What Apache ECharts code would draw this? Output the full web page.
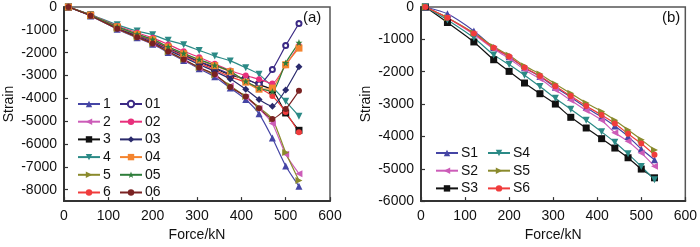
<!DOCTYPE html>
<html>
<head>
<meta charset="utf-8">
<script src="https://cdn.jsdelivr.net/npm/echarts@6/dist/echarts.min.js"></script>
<style>
  html, body { margin: 0; padding: 0; background: #fff; }
  #main { width: 700px; height: 247px; }
</style>
</head>
<body>
<div id="main"></div>
<script>
// force values (kN), shared by both panels
var force = [10, 60, 120, 165, 200, 235, 270, 305, 340, 375, 410, 440, 470, 500, 530];

// panel (a)
var a1  = [0, -390, -970, -1350, -1630, -1990, -2340, -2700, -3050, -3550, -4050, -4680, -5740, -6960, -7850];
var a2  = [0, -380, -950, -1330, -1610, -1960, -2310, -2660, -2990, -3460, -3950, -4450, -5100, -6450, -7300];
var a3  = [0, -360, -890, -1230, -1480, -1800, -2100, -2400, -2680, -2980, -3160, -3400, -3630, -4640, -5400];
var a4  = [0, -330, -780, -1050, -1220, -1460, -1650, -1900, -2150, -2360, -2660, -2950, -3500, -4130, -4780];
var a5  = [0, -380, -950, -1330, -1600, -1960, -2300, -2650, -2980, -3450, -3920, -4400, -4900, -6370, -7600];
var a6  = [0, -360, -900, -1250, -1500, -1830, -2150, -2450, -2750, -3050, -3300, -3550, -3900, -4600, -5490];
var a01 = [0, -350, -880, -1220, -1460, -1780, -2080, -2380, -2650, -2950, -3150, -3370, -2740, -1690, -720];
var a02 = [0, -340, -830, -1130, -1350, -1640, -1940, -2200, -2490, -2780, -3000, -3160, -3350, -2550, -1700];
var a03 = [0, -370, -920, -1280, -1550, -1880, -2200, -2520, -2820, -3150, -3600, -4050, -4350, -3630, -2620];
var a04 = [0, -350, -870, -1200, -1430, -1750, -2050, -2320, -2570, -2830, -3290, -3600, -3550, -2530, -1800];
var a05 = [0, -350, -860, -1190, -1420, -1740, -2030, -2300, -2550, -2820, -3250, -3550, -3700, -2450, -1560];
var a06 = [0, -380, -950, -1320, -1600, -1950, -2300, -2650, -2950, -3500, -3920, -4430, -4900, -4470, -3670];

// panel (b)
var s1 = [0, -210, -740, -1250, -1540, -1880, -2150, -2480, -2790, -3110, -3400, -3680, -4000, -4390, -4720];
var s2 = [0, -340, -850, -1300, -1590, -1940, -2220, -2560, -2880, -3200, -3500, -3890, -4150, -4510, -4920];
var s3 = [0, -480, -1080, -1630, -1990, -2350, -2680, -3000, -3410, -3740, -4070, -4360, -4660, -5010, -5280];
var s4 = [0, -400, -950, -1480, -1780, -2110, -2460, -2820, -3160, -3500, -3860, -4180, -4540, -4930, -5340];
var s5 = [0, -330, -800, -1230, -1490, -1820, -2070, -2380, -2670, -2970, -3230, -3500, -3800, -4100, -4420];
var s6 = [0, -330, -820, -1260, -1530, -1870, -2130, -2450, -2750, -3060, -3340, -3600, -3920, -4220, -4570];

var yTicksA = [0, -1000, -2000, -3000, -4000, -5000, -6000, -7000, -8000];
var yTicksB = [0, -1000, -2000, -3000, -4000, -5000, -6000];

var star = 'path://M12,1 L15,9 L23,9 L16.5,14 L19,22 L12,17 L5,22 L7.5,14 L1,9 L9,9 Z';

var font = 'Liberation Sans';
var axisCol = '#333';

function pairs(ys) {
  return ys.map(function (y, i) { return [force[i], y]; });
}

function plain(v) { return String(v); }

function mk(name, ys, color, symbol, rot, idx) {
  return {
    name: name,
    type: 'line',
    xAxisIndex: idx,
    yAxisIndex: idx,
    data: pairs(ys),
    smooth: 0.2,
    symbol: symbol,
    symbolRotate: rot,
    symbolSize: symbol === 'emptyCircle' ? 5 : (symbol === 'circle' ? 6 : 7),
    showAllSymbol: true,
    lineStyle: { width: 1.2, color: color },
    itemStyle: { color: color, borderColor: color, borderWidth: symbol === 'emptyCircle' ? 1.5 : 0 },
    emphasis: { disabled: true },
    animation: false
  };
}

function xAx(idx) {
  return {
    type: 'value', gridIndex: idx, min: 0, max: 600, interval: 100,
    name: 'Force/kN', nameLocation: 'middle', nameGap: 25,
    nameTextStyle: { fontFamily: font, fontSize: 14, color: '#111' },
    axisLine: { onZero: false, lineStyle: { color: axisCol, width: 2 } },
    axisTick: { inside: true, length: 4, lineStyle: { color: axisCol, width: 1.2 } },
    axisLabel: { fontFamily: font, fontSize: 14, color: '#111', margin: 8, formatter: plain },
    splitLine: { show: false }
  };
}

function yAx(idx, min, ticks) {
  return {
    type: 'value', gridIndex: idx, min: min, max: 0, interval: 500,
    name: 'Strain', nameLocation: 'middle', nameGap: 48, nameRotate: 90,
    nameTextStyle: { fontFamily: font, fontSize: 14, color: '#111' },
    axisLine: { onZero: false, lineStyle: { color: axisCol, width: 2 } },
    axisTick: { inside: true, length: 4, customValues: ticks, lineStyle: { color: axisCol, width: 1.2 } },
    axisLabel: { fontFamily: font, fontSize: 14, color: '#111', margin: 7, customValues: ticks, formatter: plain },
    splitLine: { show: false }
  };
}

function leg(names, left, top) {
  return {
    data: names, orient: 'vertical', left: left, top: top,
    itemWidth: 22, itemHeight: 8, itemGap: 3.7,
    textStyle: { fontFamily: font, fontSize: 14, color: '#111', padding: [0, 0, 0, -2] },
    selectedMode: false, padding: 0
  };
}

var chart = echarts.init(document.getElementById('main'), null, { renderer: 'canvas' });

var option = {
  backgroundColor: '#fff',
  animation: false,
  grid: [
    { left: 64, top: 6, width: 266, height: 203, show: true, borderColor: '#555', borderWidth: 1.5, backgroundColor: 'transparent' },
    { left: 421, top: 6, width: 267, height: 203, show: true, borderColor: '#555', borderWidth: 1.5, backgroundColor: 'transparent' }
  ],
  xAxis: [xAx(0), xAx(1)],
  yAxis: [yAx(0, -8500, yTicksA), yAx(1, -6000, yTicksB)],
  legend: [
    leg(['1', '2', '3', '4', '5', '6'], 77, 97),
    leg(['01', '02', '03', '04', '05', '06'], 119, 97),
    leg(['S1', 'S2', 'S3'], 435, 146),
    leg(['S4', 'S5', 'S6'], 487, 146)
  ],
  graphic: [
    { type: 'text', left: 303, top: 10, style: { text: '(a)', font: '15px "Liberation Sans"', fill: '#111' } },
    { type: 'text', left: 662, top: 10, style: { text: '(b)', font: '15px "Liberation Sans"', fill: '#111' } }
  ],
  series: [
    mk('1', a1, '#4545a5', 'triangle', 0, 0),
    mk('2', a2, '#cc5cb8', 'triangle', 90, 0),
    mk('3', a3, '#111111', 'rect', 0, 0),
    mk('4', a4, '#2b8a86', 'triangle', 180, 0),
    mk('5', a5, '#8a8a2c', 'triangle', -90, 0),
    mk('6', a6, '#f03c3c', 'circle', 0, 0),
    mk('01', a01, '#3b2a85', 'emptyCircle', 0, 0),
    mk('02', a02, '#e8307c', 'circle', 0, 0),
    mk('03', a03, '#2a2a6c', 'diamond', 0, 0),
    mk('04', a04, '#f4842e', 'rect', 0, 0),
    mk('05', a05, '#2e7d3a', star, 0, 0),
    mk('06', a06, '#7a2222', 'circle', 0, 0),
    mk('S1', s1, '#4545a5', 'triangle', 0, 1),
    mk('S2', s2, '#cc5cb8', 'triangle', 90, 1),
    mk('S3', s3, '#111111', 'rect', 0, 1),
    mk('S4', s4, '#2b8a86', 'triangle', 180, 1),
    mk('S5', s5, '#8a8a2c', 'triangle', -90, 1),
    mk('S6', s6, '#f03c3c', 'circle', 0, 1)
  ]
};

chart.setOption(option);
</script>
</body>
</html>
